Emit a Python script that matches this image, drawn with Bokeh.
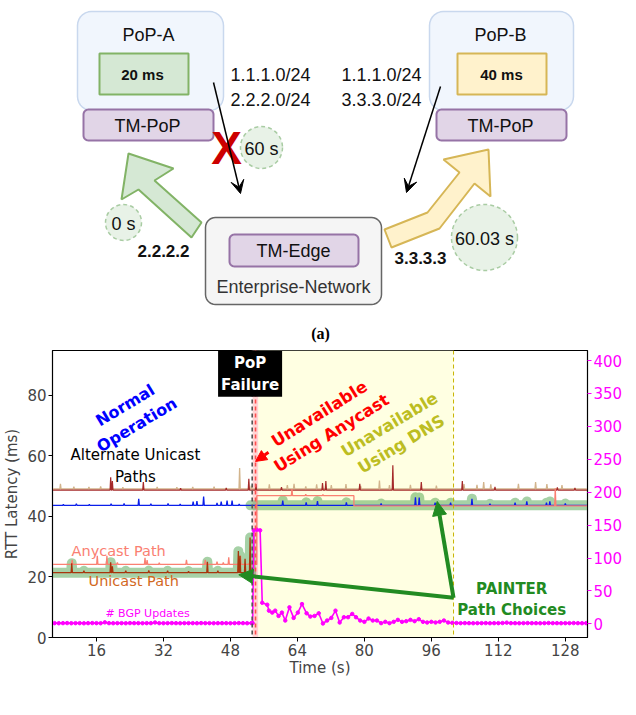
import numpy as np
from bokeh.plotting import figure
from bokeh.layouts import column
from bokeh.models import (Range1d, LinearAxis, FixedTicker, Label, Arrow, NormalHead,
                          VeeHead, BoxAnnotation, Span)
from bokeh.core.properties import value
from bokeh.embed import file_html
from bokeh.resources import INLINE

# ------------------------------------------------------------------ (b) data
X_TICKS = [16, 32, 48, 64, 80, 96, 112, 128]
RTT_TICKS = [0, 20, 40, 60, 80]
BGP_TICKS = [0, 50, 100, 150, 200, 250, 300, 350, 400]

T_FIRST, T_LAST = 5.5, 133.3
T_FAILURE = 53.2          # PoP-A goes down
T_ANYCAST_BACK = 54.0     # anycast reconverges to PoP-B
T_DNS_BACK = 101.3        # DNS TTL expiry
T_PAINTER_SWITCH = 52.8   # PAINTER moves to the PoP-B unicast path

# RTT traces (ms): baseline plus (time s, peak ms) spikes
ALT_TAN_BASE = 49.0
ALT_TAN_SPIKES = [(7.4, 50.7), (10.6, 49.8), (14.2, 49.7), (17.0, 49.9), (22.3, 49.6),
                  (30.5, 49.7), (35.2, 49.6), (39.0, 49.7), (44.1, 49.8), (50.2, 55.9),
                  (53.0, 50.1), (57.3, 50.5), (61.6, 50.3), (63.2, 50.7), (66.0, 49.9),
                  (68.6, 50.5), (72.1, 50.3), (75.6, 50.6), (79.1, 50.0), (83.6, 51.8),
                  (86.0, 50.3), (91.0, 50.4), (97.2, 50.1), (103.8, 50.6), (106.9, 50.4),
                  (108.5, 51.3), (110.2, 50.5), (116.8, 50.7), (120.9, 51.3), (123.6, 50.6),
                  (127.2, 50.3)]

ALT_BROWN_BASE = 48.6
ALT_BROWN_SPIKES = [(19.4, 52.9), (19.8, 51.6), (27.2, 51.3), (36.1, 49.3), (47.0, 49.4),
                    (52.4, 52.4), (54.1, 50.6), (60.2, 49.6), (70.0, 51.0), (70.8, 51.6),
                    (78.9, 50.7), (86.8, 56.8), (93.6, 51.3), (103.4, 51.6), (111.2, 49.7),
                    (126.1, 49.5), (130.3, 49.4)]

BLUE_BASE = 43.6
BLUE_SPIKES = [(8.1, 43.9), (11.2, 44.1), (14.3, 43.9), (19.5, 44.1), (22.6, 44.2),
               (26.1, 45.8), (29.0, 44.1), (33.1, 44.2), (36.0, 44.0), (39.1, 44.8),
               (40.0, 45.0), (41.6, 46.5), (44.8, 44.4), (45.8, 44.8), (47.2, 45.2),
               (48.4, 45.2), (50.1, 44.0), (60.5, 45.2), (66.1, 44.6), (68.8, 45.0),
               (75.7, 44.6), (84.0, 44.2), (92.2, 46.3), (93.1, 46.2), (96.9, 44.5),
               (100.6, 44.5), (105.7, 45.8), (110.0, 44.1), (116.0, 44.5), (118.8, 44.9),
               (123.5, 44.5), (124.3, 44.9), (128.0, 44.2)]

ANYCAST_BASE_PRE = 24.1
ANYCAST_SPIKES_PRE = [(10.2, 25.6), (16.2, 27.0), (18.5, 27.0), (21.0, 24.8), (27.6, 26.3),
                      (28.1, 25.5), (31.0, 24.7), (37.5, 25.6), (42.0, 25.6), (44.8, 25.0),
                      (46.3, 24.8), (47.6, 26.5), (50.4, 27.0), (52.5, 24.6)]
ANYCAST_JUMP = 54.3
ANYCAST_BASE_MID = 46.8
ANYCAST_SPIKES_MID = [(62.7, 49.0), (66.0, 47.3), (70.1, 47.2)]
ANYCAST_DROP = 77.5
ANYCAST_BASE_POST = 43.4
ANYCAST_SPIKES_POST = [(125.6, 49.2)]

UNICAST_BASE = 21.4
UNICAST_END = 53.0
UNICAST_SPIKES = [(10.1, 24.5), (13.0, 22.0), (19.4, 24.8), (19.8, 23.5), (23.0, 22.0),
                  (28.5, 22.1), (33.0, 22.0), (38.0, 21.9), (42.5, 25.0), (45.0, 22.0),
                  (49.9, 28.5), (50.3, 27.0), (51.5, 26.0), (52.7, 33.0)]

# BGP updates for the anycast prefix (right axis)
BGP_PRE_T = list(range(6, 54))
BGP_PRE_V = [1.0, 0.9, 1.0, 1.1, 0.9, 1.0, 1.0, 0.8, 1.0, 1.1,
             1.0, 0.9, 2.2, 1.0, 0.9, 1.0, 1.0, 0.9, 1.1, 1.0,
             1.0, 0.9, 1.0, 1.0, 2.0, 1.0, 0.9, 1.0, 1.1, 1.0,
             0.9, 1.0, 1.0, 1.0, 0.9, 1.1, 1.0, 1.0, 0.9, 1.0,
             1.0, 1.0, 0.9, 1.0, 1.1, 1.0, 0.9, 1.0]
BGP_FAIL_T = [53.3, 53.6, 54.3, 55.1, 55.6, 56.8, 57.2, 58.0, 58.7, 59.5,
              60.3, 61.1, 62.1, 63.1, 64.1, 65.1, 66.2, 67.1, 68.1, 69.1,
              70.1, 71.1, 72.1, 73.1, 74.1, 75.1, 76.1, 77.1, 78.0, 79.0,
              80.0, 81.0, 82.0, 83.0, 84.0, 85.0, 86.0, 87.0, 88.0, 89.0,
              90.0, 91.0, 92.0, 93.0, 94.0, 95.0, 96.0, 97.0, 98.0, 99.0,
              100.0, 101.0]
BGP_FAIL_V = [1.0, 142, 143, 142, 32, 29, 20, 17, 20, 12,
              17, 5, 25, 9, 17, 30, 16, 11, 12, 16,
              0.5, 5, 9, 20, 2, 10, 10, 15, 10, 5,
              3, 8, 5, 5, 1, 3, 1, 3, 6, 3,
              4, 6, 4, 7, 3, 2, 3, 2, 3, 5,
              2, 1.5]
BGP_POST_T = list(range(102, 134))
BGP_POST_V = [1.2, 1.0, 1.1, 1.0, 0.9, 1.0, 1.0, 1.1, 0.9, 1.0,
              1.0, 1.2, 1.8, 1.0, 1.0, 0.9, 1.0, 1.1, 1.0, 1.0,
              0.9, 1.0, 1.2, 1.0, 1.0, 0.9, 1.0, 1.0, 1.1, 1.0,
              0.9, 1.0]

# ------------------------------------------------------------------ (a) data
PREFIXES_A = ["1.1.1.0/24", "2.2.2.0/24"]
PREFIXES_B = ["1.1.1.0/24", "3.3.3.0/24"]
POP_NAMES = ["PoP-A", "PoP-B"]
POP_LATENCY = ["20 ms", "40 ms"]
TIMES = ["0 s", "60 s", "60.03 s"]
UNICAST_ADDRS = ["2.2.2.2", "3.3.3.3"]

SANS = "Liberation Sans"
MPL = "DejaVu Sans"

# both panels share the same side borders inside the column
BORDER_L, BORDER_R = 52, 49
PAGE_W = 636
TOP_H = 346


def trace(t0, t1, base, spikes, w=0.15):
    """Polyline for a flat RTT trace with narrow spikes."""
    ts, vs = [t0], [base]
    for t, v in spikes:
        ts += [t - w, t, t + w]
        vs += [base, v, base]
    ts.append(t1)
    vs.append(base)
    return ts, vs


def rounded_box(x0, y0, x1, y1, r, n=8):
    xs, ys = [], []
    for cx, cy, a0, a1 in [(x1 - r, y0 + r, -90, 0), (x1 - r, y1 - r, 0, 90),
                           (x0 + r, y1 - r, 90, 180), (x0 + r, y0 + r, 180, 270)]:
        for a in np.linspace(np.radians(a0), np.radians(a1), n):
            xs.append(cx + r * np.cos(a))
            ys.append(cy + r * np.sin(a))
    return xs, ys


# ================================================================ (a) diagram
# data units equal page pixels: x runs over the frame's own pixel span
d = figure(width=PAGE_W, height=TOP_H, x_range=Range1d(BORDER_L, PAGE_W - BORDER_R),
           y_range=Range1d(TOP_H, 0), x_axis_type=None, y_axis_type=None,
           output_backend="svg", toolbar_location=None, min_border_left=BORDER_L,
           min_border_right=BORDER_R, min_border_top=0, min_border_bottom=0)
d.grid.visible = False
d.outline_line_color = None

# PoP containers
for x0, x1 in [(77, 223), (429, 573)]:
    xs, ys = rounded_box(x0, 11, x1, 110, 14)
    d.patch(xs, ys, fill_color="#f1f6fd", line_color="#c9d8ee", line_width=1.5)
d.text(x=[148, 500], y=[34, 34], text=POP_NAMES, text_font=value(SANS),
       text_font_size="18px", text_align="center", text_baseline="middle", text_color="#111")

# latency boxes
d.quad(left=[99], right=[188], top=[53], bottom=[94], fill_color="#d5e8d4",
       line_color="#82b366", line_width=2)
d.quad(left=[457], right=[546], top=[53], bottom=[94], fill_color="#fff2cc",
       line_color="#d6b656", line_width=2)
d.text(x=[142, 501], y=[74, 74], text=POP_LATENCY, text_font=value(SANS),
       text_font_size="15px", text_font_style="bold", text_align="center",
       text_baseline="middle", text_color="#111")

# TM-PoP boxes
for x0, x1 in [(83, 213), (436, 566)]:
    xs, ys = rounded_box(x0, 109, x1, 140, 5)
    d.patch(xs, ys, fill_color="#e1d5e7", line_color="#9673a6", line_width=2)
d.text(x=[147, 500], y=[125, 125], text=["TM-PoP", "TM-PoP"], text_font=value(SANS),
       text_font_size="18px", text_align="center", text_baseline="middle", text_color="#111")

# announced prefixes
d.text(x=[270, 270, 381, 381], y=[74, 99, 74, 99], text=PREFIXES_A + PREFIXES_B,
       text_font=value(SANS), text_font_size="18px", text_align="center",
       text_baseline="middle", text_color="#111")

# route arrows
d.add_layout(Arrow(end=VeeHead(size=13, fill_color="black", line_color="black"),
                   x_start=213, y_start=82, x_end=240, y_end=193, line_width=1.5))
d.add_layout(Arrow(end=VeeHead(size=13, fill_color="black", line_color="black"),
                   x_start=440, y_start=86, x_end=406, y_end=192, line_width=1.5))

# failure mark
d.text(x=[226], y=[147], text=["X"], text_font=value(SANS), text_font_size="46px",
       text_font_style="bold", text_color="#cc0000", text_align="center",
       text_baseline="middle")

# timing bubbles
d.circle(x=[123, 261, 484], y=[222, 147, 237], radius=[18, 21, 33], fill_color="#d5e8d4",
         fill_alpha=0.55, line_color="#a9cca3", line_dash="4 3", line_width=1.5)
d.text(x=[123, 261, 484], y=[223, 148, 238], text=TIMES, text_font=value(SANS),
       text_font_size="18px", text_align="center", text_baseline="middle", text_color="#111")

# unicast probe arrows
d.patch([128, 173, 154, 201, 191, 138, 121], [153, 168, 180, 222, 237, 189, 199],
        fill_color="#d5e8d4", line_color="#82b366", line_width=2)
d.patch([384, 427, 459, 443, 488, 490, 474, 439, 391],
        [229, 212, 172, 159, 149, 196, 183, 228, 247],
        fill_color="#fff2cc", line_color="#d6b656", line_width=2)
d.text(x=[163, 420], y=[250, 257], text=UNICAST_ADDRS, text_font=value(SANS),
       text_font_size="17px", text_font_style="bold", text_align="center",
       text_baseline="middle", text_color="#111")

# enterprise network with TM-Edge
xs, ys = rounded_box(205, 217, 381, 304, 10)
d.patch(xs, ys, fill_color="#f5f5f5", line_color="#666666", line_width=1.5)
xs, ys = rounded_box(229, 234, 358, 266, 5)
d.patch(xs, ys, fill_color="#e1d5e7", line_color="#9673a6", line_width=2)
d.text(x=[293], y=[250], text=["TM-Edge"], text_font=value(SANS), text_font_size="18px",
       text_align="center", text_baseline="middle", text_color="#111")
d.text(x=[293], y=[286], text=["Enterprise-Network"], text_font=value(SANS),
       text_font_size="18px", text_align="center", text_baseline="middle", text_color="#333")

d.text(x=[320], y=[333], text=["(a)"], text_font=value("Liberation Serif"),
       text_font_size="16px", text_font_style="bold", text_align="center",
       text_baseline="middle", text_color="black")

# ================================================================ (b) chart
p = figure(width=PAGE_W, height=715 - TOP_H, x_range=Range1d(T_FIRST, T_LAST),
           y_range=Range1d(0, 94.7), output_backend="svg", toolbar_location=None,
           min_border_left=BORDER_L, min_border_right=BORDER_R,
           min_border_top=350 - TOP_H, min_border_bottom=78)
p.extra_y_ranges = {"bgp": Range1d(-20.8, 415.3)}
p.grid.visible = False
p.outline_line_color = "black"
p.outline_line_width = 1.2

# failure / reconvergence periods
p.add_layout(BoxAnnotation(left=T_FAILURE + 0.1, right=54.7, fill_color="#ffd4d4",
                           fill_alpha=1, line_color=None, level="underlay"))
p.add_layout(BoxAnnotation(left=54.7, right=T_DNS_BACK, fill_color="#ffffe2",
                           fill_alpha=1, line_color=None, level="underlay"))

tan_t, tan_v = trace(T_FIRST, T_LAST, ALT_TAN_BASE, ALT_TAN_SPIKES)
brown_t, brown_v = trace(T_FIRST, T_LAST, ALT_BROWN_BASE, ALT_BROWN_SPIKES)
blue_t, blue_v = trace(T_FIRST, T_LAST, BLUE_BASE, BLUE_SPIKES)
a1_t, a1_v = trace(T_FIRST, ANYCAST_JUMP, ANYCAST_BASE_PRE, ANYCAST_SPIKES_PRE)
a2_t, a2_v = trace(ANYCAST_JUMP, ANYCAST_DROP, ANYCAST_BASE_MID, ANYCAST_SPIKES_MID)
a3_t, a3_v = trace(ANYCAST_DROP, T_LAST, ANYCAST_BASE_POST, ANYCAST_SPIKES_POST)
any_t, any_v = a1_t + a2_t + a3_t, a1_v + a2_v + a3_v
uni_t, uni_v = trace(T_FIRST, UNICAST_END, UNICAST_BASE, UNICAST_SPIKES)

# path chosen by PAINTER: unicast via PoP-A, then the PoP-B unicast path
after = [(t, v) for t, v in zip(blue_t, blue_v) if t >= T_PAINTER_SWITCH]
hl_xs = [uni_t, [T_PAINTER_SWITCH] + [t for t, _ in after]]
hl_ys = [uni_v, [BLUE_BASE] + [v for _, v in after]]
p.multi_line(hl_xs, hl_ys, line_color="#3a9a3a", line_alpha=0.45, line_width=10,
             line_join="round", line_cap="round")

p.line(tan_t, tan_v, line_color="#d2b48c", line_width=1.3)
p.line(brown_t, brown_v, line_color="#a52a2a", line_width=1.2)
p.line(blue_t, blue_v, line_color="#0a1eea", line_width=1.3)
p.line(any_t, any_v, line_color="#fa8072", line_width=1.3)
p.line(uni_t, uni_v, line_color="#a8350c", line_width=1.3)

bgp_t = BGP_PRE_T + BGP_FAIL_T + BGP_POST_T
bgp_v = BGP_PRE_V + BGP_FAIL_V + BGP_POST_V
p.line(bgp_t, bgp_v, y_range_name="bgp", line_color="#ff00ff", line_width=1.6)
p.scatter(bgp_t, bgp_v, y_range_name="bgp", size=3.5, marker="circle",
          fill_color="#ff00ff", line_color="#ff00ff")

p.add_layout(Span(location=T_FAILURE, dimension="height", line_color="#555555",
                  line_dash="4 3", line_width=1.6))
p.add_layout(Span(location=T_ANYCAST_BACK, dimension="height", line_color="#ff4d4d",
                  line_dash="4 3", line_width=1.6))
p.add_layout(Span(location=T_DNS_BACK, dimension="height", line_color="#c8b400",
                  line_dash="4 3", line_width=1))

# axes
p.xaxis.ticker = FixedTicker(ticks=X_TICKS)
p.yaxis.ticker = FixedTicker(ticks=RTT_TICKS)
p.xaxis.axis_label = "Time (s)"
p.yaxis.axis_label = "RTT Latency (ms)"
right = LinearAxis(y_range_name="bgp", ticker=FixedTicker(ticks=BGP_TICKS))
p.add_layout(right, "right")
for ax in [p.xaxis[0], p.yaxis[0], right]:
    ax.major_label_text_font = MPL
    ax.major_label_text_font_size = "15px"
    ax.axis_label_text_font = MPL
    ax.axis_label_text_font_size = "15px"
    ax.axis_label_text_font_style = "normal"
    ax.minor_tick_line_color = None
    ax.major_tick_out = 4
    ax.major_tick_in = 0
    ax.major_label_standoff = 2
    ax.axis_label_standoff = 3
    ax.axis_line_color = "black"
p.xaxis[0].axis_label_standoff = 0
right.major_label_text_color = "#ff00ff"
right.major_tick_line_color = "#ff00ff"

p.add_layout(Label(x=573, y=143, x_units="screen", y_units="screen",
                   text="# Anycast Prefix BGP Updates", angle=np.pi / 2,
                   text_align="center", text_baseline="middle", text_font=MPL,
                   text_font_size="15px", text_color="#ff00ff"))

# annotations
def note(x, y, text, color, size="15px", style="normal", angle=0.0, baseline="middle"):
    p.add_layout(Label(x=x, y=y, text=text, text_color=color, text_font=MPL,
                       text_font_size=size, text_font_style=style,
                       angle=np.radians(angle), text_align="center",
                       text_baseline=baseline))

note(24.25, 73.4, "Normal\nOperation", "#0000ff", "16px", "bold", 31)
note(25.3, 56.6, "Alternate Unicast\nPaths", "black", "15px")
note(70.7, 70.6, "Unavailable\nUsing Anycast", "#ff0000", "16.5px", "bold", 32)
note(87.4, 67.0, "Unavailable\nUsing DNS", "#bcbd22", "16.5px", "bold", 31)
note(21.3, 28.7, "Anycast Path", "#fa8072", "14.5px")
note(24.9, 18.5, "Unicast Path", "#d2691e", "14.5px")
note(28.2, 7.9, "# BGP Updates", "#ff00ff", "11px")
note(115.2, 12.5, "PAINTER\nPath Choices", "#228b22", "15px", "bold")

p.add_layout(Label(x=52.7, y=94.5, text="PoP\nFailure", text_color="white",
                   text_font=MPL, text_font_size="15px", text_font_style="bold",
                   text_align="center", text_baseline="top",
                   background_fill_color="black", padding=3))

p.add_layout(Arrow(end=NormalHead(size=11, fill_color="#ff0000", line_color="#ff0000"),
                   x_start=57.1, y_start=61.1, x_end=54.0, y_end=58.1,
                   line_color="#ff0000", line_width=3))
for xe, ye in [(50.0, 20.7), (97.4, 44.9)]:
    p.add_layout(Arrow(end=NormalHead(size=14, fill_color="#228b22", line_color="#228b22"),
                       x_start=101.3, y_start=13.1, x_end=xe, y_end=ye,
                       line_color="#228b22", line_width=4))

p.add_layout(Label(x=268, y=-63, x_units="screen", y_units="screen", text="(b)",
                   text_font="Liberation Serif", text_font_size="16px",
                   text_font_style="bold", text_align="center", text_baseline="middle"))

layout = column(d, p)
open("out.html", "w").write(file_html(layout, INLINE))
